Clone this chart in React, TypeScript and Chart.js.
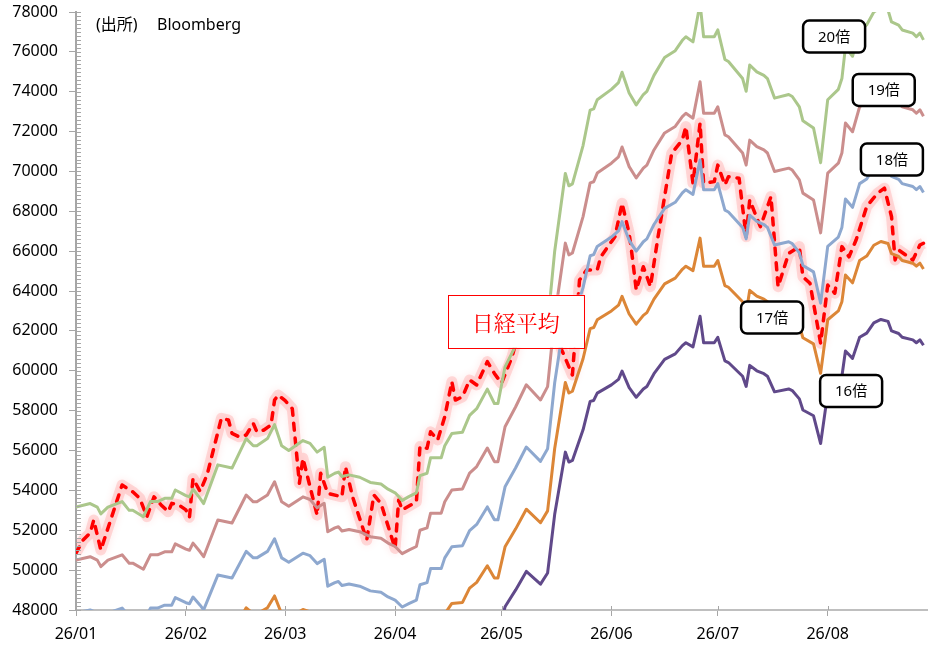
import { useEffect, useRef } from 'react'
import { Chart, registerables } from 'chart.js'

Chart.register(...registerables)

// day offsets from 26/01 (first tick) and their labels
const monthDays = [0, 31, 59, 90, 120, 151, 181, 212]
const monthLabels = ['26/01', '26/02', '26/03', '26/04', '26/05', '26/06', '26/07', '26/08']

// 予想EPS (bands are EPS x multiple)
const epsDays = [
  0, 4, 6, 7, 9, 13, 15, 16, 19, 21, 23, 25, 27, 28, 31, 32, 33, 35, 36, 40,
  44, 48, 50, 51, 54, 56, 58, 60, 64, 66, 68, 70, 71, 73, 74, 75, 77, 80, 83, 86,
  88, 90, 92, 94, 96, 97, 99, 100, 103, 104, 106, 109, 111, 113, 116, 118, 119, 121, 124, 127,
  131, 133, 135, 138, 139, 140, 143, 145, 146, 147, 151, 153, 154, 155, 156, 158, 160, 161, 163, 166,
  169, 171, 172, 174, 176, 177, 180, 181, 183, 184, 188, 189, 190, 192, 194, 195, 197, 201, 202, 204,
  205, 208, 210, 212, 215, 216, 217, 219, 221, 223, 225, 227, 229, 230, 232, 233, 236, 237, 238, 239,
]
const eps = [
  2658, 2667, 2658, 2641, 2658, 2672, 2650, 2650, 2634, 2672, 2672, 2680, 2680, 2701, 2687, 2684, 2703, 2680, 2667, 2764,
  2756, 2830, 2812, 2812, 2830, 2865, 2812, 2800, 2825, 2818, 2796, 2808, 2733, 2743, 2746, 2735, 2739, 2733, 2720, 2716,
  2703, 2694, 2675, 2685, 2694, 2737, 2743, 2782, 2782, 2812, 2843, 2846, 2888, 2905, 2954, 2918, 2918, 3010, 3063, 3121,
  3081, 3116, 3300, 3495, 3464, 3469, 3565, 3654, 3657, 3680, 3706, 3723, 3749, 3723, 3697, 3667, 3693, 3701, 3741, 3786,
  3803, 3829, 3838, 3825, 3921, 3838, 3838, 3855, 3781, 3776, 3733, 3701, 3767, 3750, 3741, 3733, 3684, 3693, 3688, 3662,
  3627, 3609, 3522, 3680, 3706, 3733, 3812, 3789, 3855, 3868, 3900, 3911, 3905, 3875, 3867, 3855, 3847, 3838, 3847, 3830,
]

// 日経平均
const nikkeiDays = [
  0, 2, 4, 5, 7, 13, 16, 18, 20, 22, 24, 26, 27, 29, 31, 32, 33, 35, 37, 41,
  43, 44, 46, 48, 50, 51, 53, 55, 56, 57, 59, 61, 63, 64, 66, 68, 69, 71, 75, 76,
  78, 82, 84, 86, 90, 91, 92, 96, 97, 99, 100, 102, 104, 106, 107, 109, 111, 113, 116, 118,
  120, 123, 125, 128, 131, 134, 137, 140, 142, 144, 147, 148, 151, 152, 154, 156, 157, 158, 160, 162,
  164, 166, 168, 171, 172, 174, 176, 177, 180, 181, 183, 184, 187, 189, 190, 193, 194, 196, 198, 201,
  204, 205, 207, 210, 212, 214, 216, 218, 220, 223, 226, 228, 230, 231, 232, 236, 238, 239,
]
const nikkei = [
  50850, 51510, 51860, 52510, 51010, 54270, 53930, 53600, 52680, 53680, 53270, 52930, 53350, 53270, 53020, 52650, 54600, 53950, 54800, 57620,
  57530, 56860, 56690, 56780, 57360, 56940, 57030, 57280, 58530, 58780, 58500, 58100, 54360, 55610, 54190, 52760, 54860, 53850, 53680, 55190,
  53680, 51510, 53770, 53350, 51090, 53520, 53020, 53430, 56200, 56110, 56940, 56530, 57700, 59450, 58530, 58700, 59540, 59290, 60460, 59870,
  59370, 60710, 62040, 62900, 63300, 62600, 61040, 59790, 64550, 65060, 65060, 65720, 66480, 66730, 68400, 66900, 65560, 64050, 65220, 64220,
  66560, 68740, 70910, 71580, 72250, 69410, 72430, 69410, 69490, 70320, 69320, 69740, 69660, 66730, 68570, 67230, 67730, 68740, 64220, 65890,
  66230, 64720, 64390, 61380, 64300, 63890, 66230, 65720, 66560, 68240, 68900, 69160, 67730, 65560, 66060, 65560, 66310, 66400,
]

const multiples = [20, 19, 18, 17, 16]
const bandLabels = ['20倍', '19倍', '18倍', '17倍', '16倍']
const bandColors = ['#ABC78B', '#CB8E8D', '#8EA8CF', '#DC8637', '#60498A']
// where the callout boxes sit, in axis units (day, yen)
const calloutDays = [213.8, 227.8, 230.1, 196.3, 218.6]
const calloutValues = [76770, 74090, 70600, 62670, 58990]

const font = '"Noto Sans", "Noto Sans CJK JP", sans-serif'

const decorations = {
  id: 'decorations',
  beforeDatasetDraw(chart, args) {
    const ds = chart.data.datasets[args.index]
    if (ds.glow) {
      chart.ctx.save()
      chart.ctx.shadowColor = ds.glow
      chart.ctx.shadowBlur = 9
    }
  },
  afterDatasetDraw(chart, args) {
    if (chart.data.datasets[args.index].glow) chart.ctx.restore()
  },
  afterDraw(chart) {
    const { ctx, chartArea } = chart
    const xs = chart.scales.x
    const ys = chart.scales.y
    ctx.save()

    // minor ticks on the y axis, inner half of major ticks on the x axis
    ctx.strokeStyle = '#A6A6A6'
    ctx.lineWidth = 1
    ctx.beginPath()
    for (let v = 48000; v <= 78000; v += 200) {
      const py = Math.round(ys.getPixelForValue(v)) + 0.5
      ctx.moveTo(chartArea.left, py)
      ctx.lineTo(chartArea.left + 5, py)
    }
    monthDays.forEach((d) => {
      const px = Math.round(xs.getPixelForValue(d)) + 0.5
      ctx.moveTo(px, chartArea.bottom)
      ctx.lineTo(px, chartArea.bottom - 4)
    })
    ctx.stroke()

    // source note
    ctx.fillStyle = '#000'
    ctx.font = '16px ' + font
    ctx.textBaseline = 'middle'
    ctx.textAlign = 'left'
    ctx.fillText('(出所)', chartArea.left + 20, chartArea.top + 13)
    ctx.fillText('Bloomberg', chartArea.left + 81, chartArea.top + 13)

    // multiple callouts
    bandLabels.forEach((text, i) => {
      const cx = xs.getPixelForValue(calloutDays[i])
      const cy = ys.getPixelForValue(calloutValues[i])
      const w = 62
      const h = 32
      ctx.beginPath()
      ctx.roundRect(cx - w / 2, cy - h / 2, w, h, 6)
      ctx.fillStyle = '#fff'
      ctx.fill()
      ctx.lineWidth = 2.5
      ctx.strokeStyle = '#000'
      ctx.stroke()
      ctx.fillStyle = '#000'
      ctx.font = '15px ' + font
      ctx.textAlign = 'center'
      ctx.fillText(text, cx, cy + 1)
    })

    // 日経平均 callout
    const nx = xs.getPixelForValue(124)
    const ny = ys.getPixelForValue(62460)
    ctx.fillStyle = '#fff'
    ctx.fillRect(nx - 68, ny - 27, 136, 53)
    ctx.strokeStyle = '#FF0000'
    ctx.lineWidth = 1
    ctx.strokeRect(Math.round(nx - 68) + 0.5, Math.round(ny - 27) + 0.5, 136, 53)
    ctx.fillStyle = '#FF0000'
    ctx.font = '22px "Noto Serif CJK JP", "Noto Sans CJK JP", serif'
    ctx.textAlign = 'center'
    ctx.fillText('日経平均', nx, ny + 1)

    ctx.restore()
  },
}

export default function App() {
  const ref = useRef(null)

  useEffect(() => {
    const nikkeiPoints = nikkeiDays.map((d, i) => ({ x: d, y: nikkei[i] }))
    const bands = multiples.map((m, k) => ({
      label: bandLabels[k],
      data: epsDays.map((d, i) => ({ x: d, y: eps[i] * m })),
      borderColor: bandColors[k],
      borderWidth: 3,
      borderJoinStyle: 'round',
      pointRadius: 0,
      order: 1,
    }))

    const chart = new Chart(ref.current, {
      type: 'line',
      data: {
        datasets: [
          {
            label: '日経平均 glow',
            data: nikkeiPoints,
            borderColor: 'rgba(255, 90, 90, 0.2)',
            borderWidth: 11,
            borderJoinStyle: 'round',
            pointRadius: 0,
            glow: 'rgba(255, 0, 0, 0.45)',
            order: 10,
          },
          {
            label: '日経平均',
            data: nikkeiPoints,
            borderColor: '#FF0000',
            borderWidth: 3.5,
            borderDash: [7, 8],
            borderCapStyle: 'round',
            borderJoinStyle: 'round',
            pointRadius: 0,
            order: 9,
          },
          ...bands,
        ],
      },
      options: {
        animation: false,
        responsive: false,
        events: [],
        layout: { padding: { top: 12, right: 18, left: 0, bottom: 0 } },
        plugins: {
          legend: { display: false },
          tooltip: { enabled: false },
        },
        scales: {
          x: {
            type: 'linear',
            min: 0,
            max: 240,
            afterBuildTicks: (scale) => {
              scale.ticks = monthDays.map((v) => ({ value: v }))
            },
            afterFit: (scale) => {
              scale.height = 59
            },
            ticks: {
              autoSkip: false,
              maxRotation: 0,
              padding: 9,
              color: '#000',
              font: { family: font, size: 16 },
              callback: (v) => monthLabels[monthDays.indexOf(v)],
            },
            grid: { drawOnChartArea: false, tickLength: 6, color: '#A6A6A6' },
            border: { color: '#BFBFBF', width: 2 },
          },
          y: {
            min: 48000,
            max: 78000,
            afterFit: (scale) => {
              scale.width = 76
              scale.paddingTop = 0
              scale.paddingBottom = 0
            },
            ticks: {
              stepSize: 2000,
              padding: 11,
              color: '#000',
              font: { family: font, size: 16 },
              callback: (v) => String(v),
            },
            grid: { drawOnChartArea: false, tickLength: 7, color: '#A6A6A6' },
            border: { color: '#A6A6A6', width: 2 },
          },
        },
      },
      plugins: [decorations],
    })
    return () => chart.destroy()
  }, [])

  return (
    <div style={{ position: 'absolute', left: 0, top: 0, width: 945, height: 669, background: '#fff' }}>
      <canvas ref={ref} width={945} height={669} style={{ display: 'block', width: 945, height: 669 }}></canvas>
    </div>
  )
}
